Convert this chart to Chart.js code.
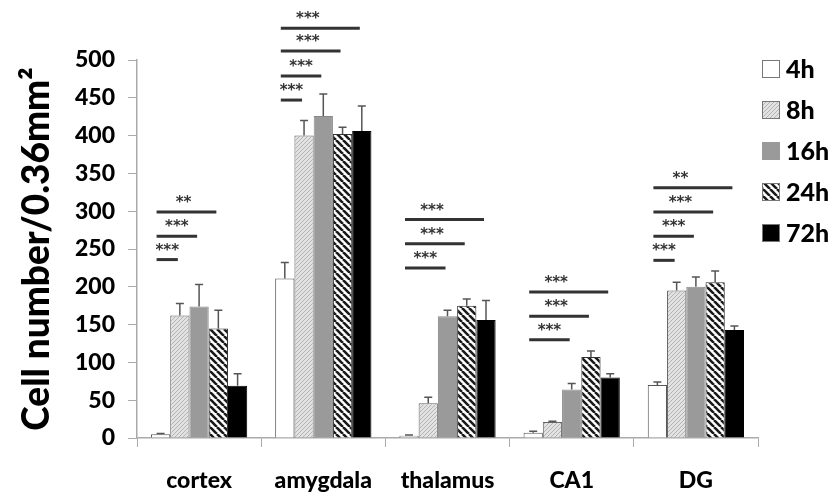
<!DOCTYPE html>
<html>
<head>
<meta charset="utf-8">
<script src="https://cdn.jsdelivr.net/npm/chart.js@4.4.1/dist/chart.umd.min.js"></script>
<style>
  html, body { margin: 0; padding: 0; background: #fff; }
</style>
</head>
<body>
<canvas id="cellChart" width="831" height="495"></canvas>
<script>
// Sample Values
const regions = ['cortex', 'amygdala', 'thalamus', 'CA1', 'DG'];
const timePoints = ['4h', '8h', '16h', '24h', '72h'];

const h4 = [5, 211, 3, 7, 70];
const h8 = [162, 400, 46, 21, 195];
const h16 = [174, 426, 161, 64, 200];
const h24 = [145, 402, 175, 107, 206];
const h72 = [69, 406, 156, 80, 143];

// error bars (upper half only)
const e4 = [1, 21, 1, 2, 4];
const e8 = [16, 20, 8, 1, 11];
const e16 = [29, 29, 8, 8, 13];
const e24 = [24, 9, 9, 8, 15];
const e72 = [16, 33, 26, 5, 5];

const yTicks = [0, 50, 100, 150, 200, 250, 300, 350, 400, 450, 500];

// significance brackets: region, compared series (vs 4h), height, stars
const sigRegion = [0, 0, 0, 1, 1, 1, 1, 2, 2, 2, 3, 3, 3, 4, 4, 4, 4];
const sigVs = [1, 2, 3, 1, 2, 3, 4, 2, 3, 4, 2, 3, 4, 1, 2, 3, 4];
const sigLevel = [236, 267, 299, 447, 479, 512, 542, 225, 257, 289, 130, 161, 193, 235, 267, 299, 331];
const sigStars = ['***', '***', '**', '***', '***', '***', '***', '***', '***', '***', '***', '***', '***', '***', '***', '***', '**'];

function hatch(bg, fg, size, lw, dir) {
    const c = document.createElement('canvas');
    c.width = size;
    c.height = size;
    const g = c.getContext('2d');
    g.fillStyle = bg;
    g.fillRect(0, 0, size, size);
    g.strokeStyle = fg;
    g.lineWidth = lw;
    g.beginPath();
    for (let k = -1; k <= 1; k++) {
        if (dir > 0) {
            g.moveTo(k * size, size);
            g.lineTo(k * size + size, 0);
        } else {
            g.moveTo(k * size, 0);
            g.lineTo(k * size + size, size);
        }
    }
    g.stroke();
    return g.createPattern(c, 'repeat');
}

const fills = [
    '#ffffff',
    hatch('#e2e2e2', '#b4b4b4', 4, 1, 1),
    '#9a9a9a',
    hatch('#ffffff', '#1a1a1a', 7, 2.6, -1),
    '#000000'
];
const borders = ['#555', '#666', '#888', '#333', '#000'];
const series = [h4, h8, h16, h24, h72];
const errors = [e4, e8, e16, e24, e72];

const font = 'Lato';

const errorBars = {
    id: 'errorBars',
    afterDatasetsDraw(chart) {
        const ctx = chart.ctx;
        const y = chart.scales.y;
        ctx.save();
        ctx.strokeStyle = '#555';
        ctx.lineWidth = 1.5;
        chart.data.datasets.forEach((ds, i) => {
            chart.getDatasetMeta(i).data.forEach((bar, j) => {
                const top = y.getPixelForValue(ds.data[j] + errors[i][j]);
                ctx.beginPath();
                ctx.moveTo(bar.x, bar.y);
                ctx.lineTo(bar.x, top);
                ctx.moveTo(bar.x - 4, top);
                ctx.lineTo(bar.x + 4, top);
                ctx.stroke();
            });
        });
        ctx.restore();
    }
};

const sigLines = {
    id: 'sigLines',
    afterDraw(chart) {
        const ctx = chart.ctx;
        const y = chart.scales.y;
        ctx.save();
        ctx.strokeStyle = '#333';
        ctx.fillStyle = '#333';
        ctx.lineWidth = 3;
        ctx.font = 'bold 15px "DejaVu Sans"';
        ctx.textAlign = 'center';
        ctx.textBaseline = 'alphabetic';
        sigLevel.forEach((lvl, k) => {
            const r = sigRegion[k];
            const x0 = chart.getDatasetMeta(0).data[r].x - 4;
            const x1 = chart.getDatasetMeta(sigVs[k]).data[r].x - 2;
            const py = y.getPixelForValue(lvl);
            ctx.beginPath();
            ctx.moveTo(x0, py);
            ctx.lineTo(x1, py);
            ctx.stroke();
            const cx = x0 + Math.min((x1 - x0) / 2, 27);
            ctx.fillText(sigStars[k], cx, py - 5);
        });
        ctx.restore();
    }
};

const sideLegend = {
    id: 'sideLegend',
    afterDraw(chart) {
        const ctx = chart.ctx;
        const left = chart.chartArea.right + 4;
        ctx.save();
        ctx.font = '900 25px ' + font;
        ctx.textBaseline = 'middle';
        ctx.fillStyle = '#000';
        chart.data.datasets.forEach((ds, i) => {
            const top = chart.chartArea.top + i * 41;
            ctx.fillStyle = ds.backgroundColor;
            ctx.fillRect(left, top, 18, 18);
            ctx.strokeStyle = i === 2 ? '#9a9a9a' : '#777';
            ctx.lineWidth = 1;
            ctx.strokeRect(left + 0.5, top + 0.5, 17, 17);
            ctx.fillStyle = '#000';
            ctx.fillText(ds.label, left + 24, top + 10);
        });
        ctx.restore();
    }
};

const ctx = document.getElementById('cellChart');

new Chart(ctx, {
    type: 'bar',
    data: {
        labels: regions,
        datasets: series.map((vals, i) => ({
            label: timePoints[i],
            data: vals,
            backgroundColor: fills[i],
            borderColor: borders[i],
            borderWidth: 1,
            categoryPercentage: 0.775,
            barPercentage: 1
        }))
    },
    options: {
        responsive: false,
        animation: false,
        layout: { padding: { top: 60, right: 73, left: 0, bottom: 0 } },
        plugins: {
            legend: { display: false },
            tooltip: { enabled: false }
        },
        scales: {
            x: {
                afterFit(scale) { scale.height = 57; },
                grid: { drawOnChartArea: false, tickLength: 9, color: '#aaa' },
                border: { color: '#aaa', width: 1.5 },
                ticks: { color: '#000', padding: 20, font: { family: font, size: 23, weight: '900' } }
            },
            y: {
                min: 0,
                max: 500,
                afterFit(scale) { scale.width = 137; },
                afterBuildTicks(scale) { scale.ticks = yTicks.map(v => ({ value: v })); },
                grid: { drawOnChartArea: false, tickLength: 9, color: '#aaa' },
                border: { color: '#aaa', width: 1.5 },
                ticks: { color: '#000', padding: 13, font: { family: font, size: 23, weight: '900' } },
                title: {
                    display: true,
                    text: 'Cell number/0.36mm²',
                    color: '#000',
                    padding: { top: 15 },
                    font: { family: font, size: 37, weight: '900' }
                }
            }
        }
    },
    plugins: [errorBars, sigLines, sideLegend]
});
</script>
</body>
</html>
